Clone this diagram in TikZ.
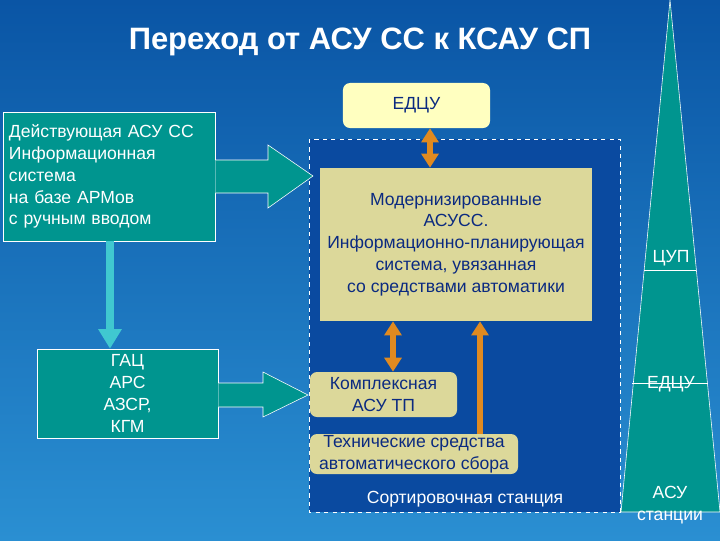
\documentclass[tikz,border=0pt]{standalone}
\usepackage{fontspec}
\setmainfont{Liberation Sans}
\usetikzlibrary{arrows.meta,shapes.arrows}
\definecolor{bgtop}{HTML}{0A55A5}
\definecolor{bgbot}{HTML}{2A8FD2}
\definecolor{zone}{HTML}{0A4AA0}
\definecolor{teal}{HTML}{00958F}
\definecolor{khaki}{HTML}{DCD89A}
\definecolor{lemon}{HTML}{FFFFC0}
\definecolor{ink}{HTML}{0B2A80}
\definecolor{amber}{HTML}{E08A20}
\definecolor{aqua}{HTML}{40C8D0}
\tikzset{
  sys/.style={draw=white, fill=teal, text=white, inner sep=0pt},
  pale/.style={fill=khaki, text=ink, rounded corners=5pt, inner sep=0pt},
  fat/.style={draw=white, fill=teal},
  link/.style={line width=4pt, draw=amber, -{Triangle[width=12pt,length=10pt]}},
  twin/.style={link, {Triangle[width=12pt,length=10pt]}-{Triangle[width=12pt,length=10pt]}}
}
\begin{document}
\begin{tikzpicture}[x=0.025cm, y=-0.025cm, font=\fontsize{12.5}{15.5}\selectfont]
  % background
  \shade[top color=bgtop, bottom color=bgbot] (0,0) rectangle (720,540);
  \useasboundingbox (0,0) rectangle (720,540);
  \node[text=white, font=\bfseries\fontsize{22}{26}\selectfont] (title) at (360,42) {Переход от АСУ СС к КСАУ СП};
  % station zone
  \draw[white, dashed, fill=zone] (309,139) rectangle (620,512);
  \node[text=white] (station) at (465,499) {Сортировочная станция};
  % boxes
  \node[fill=lemon, text=ink, rounded corners=5pt, inner sep=0pt,
        minimum width=3.675cm, minimum height=1.125cm] (edcu) at (416.5,105.5) {ЕДЦУ};
  \node[pale, rounded corners=0pt, minimum width=6.8cm, minimum height=3.825cm, align=center]
        (modern) at (456,244.5) {Модернизированные\\АСУСС.\\Информационно-планирующая\\система, увязанная\\со средствами автоматики};
  \node[pale, minimum width=3.675cm, minimum height=1.125cm, align=center] (ktp) at (383.5,394.5) {Комплексная\\АСУ ТП};
  \node[pale, minimum width=5.2cm, minimum height=1cm, align=center] (tech) at (414,454) {Технические средства\\автоматического сбора};
  % left systems
  \node[sys, minimum width=5.3cm, minimum height=3.225cm, align=left, text width=5cm, inner xsep=0.15cm] (old) at (109,176.5)
        {Действующая АСУ СС\\Информационная\\система\\на базе АРМов\\с ручным вводом};
  \node[sys, minimum width=4.525cm, minimum height=2.225cm, align=center] (gac) at (127.5,393.5) {ГАЦ\\АРС\\АЗСР,\\КГМ};
  \draw[fat] (old.east |- 0,160) -- (268,160) -- (268,145) -- (313,176) -- (268,208) -- (268,193) -- (old.east |- 0,193);
  \draw[fat] (gac.east |- 0,383) -- (263,383) -- (263,372) -- (308,395) -- (263,417) -- (263,407) -- (gac.east |- 0,407);
  \draw[line width=6pt, aqua, -{Triangle[width=16pt,length=14pt]}] (old.south -| 110,0) -- (gac.north -| 110,0);
  % links
  \draw[twin] (edcu.south -| 430,0) -- (modern.north -| 430,0);
  \draw[twin] (modern.south -| 393,0) -- (ktp.north -| 393,0);
  \draw[link] (tech.north -| 480,0) -- (modern.south -| 480,0);
  % pyramid
  \draw[white, fill=teal] (670,0) -- (720,512) -- (621,512) -- cycle;
  \draw[white] (644,270) -- (696,270);
  \draw[white] (632,383) -- (708,383);
  \node[text=white] (cup) at (671,258) {ЦУП};
  \node[text=white] (edcu2) at (671,384) {ЕДЦУ};
  \node[text=white, align=center] (asu) at (670,505) {АСУ\\станции};
\end{tikzpicture}
\end{document}
